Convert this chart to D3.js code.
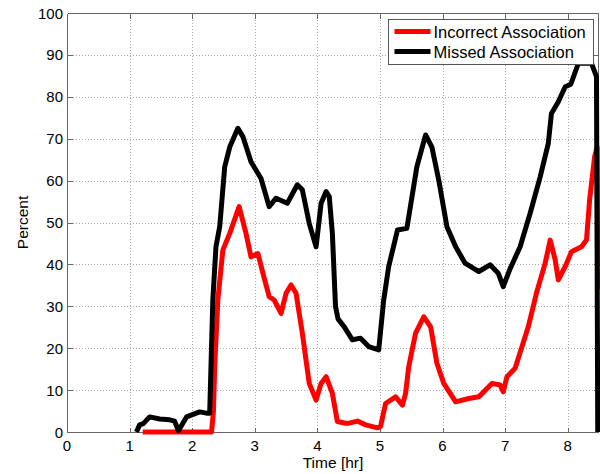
<!DOCTYPE html>
<head>
<meta charset="utf-8">
<script src="https://d3js.org/d3.v7.min.js"></script>
<style>
body {
	margin: 0;
	background: #fff;
}
svg text {
	font-family: "Liberation Sans", Arial, sans-serif;
	fill: #000;
}
.grid line {
	stroke: #aaa;
	stroke-width: 1;
	stroke-dasharray: 1,2;
	shape-rendering: crispEdges;
}
.frame line, .tickmark {
	stroke: #666;
	stroke-width: 1;
	shape-rendering: crispEdges;
}
.line {
	fill: none;
	stroke-width: 5px;
	stroke-linejoin: round;
}
</style>
</head>
<body>
<svg id="chart" width="600" height="474"></svg>
<script>

// values (time in hours, percent)
var missedTime = [1.11, 1.16, 1.22, 1.32, 1.48, 1.64, 1.72, 1.78, 1.91, 2.12, 2.23, 2.28, 2.33, 2.38, 2.44, 2.52, 2.60, 2.73, 2.81, 2.94, 3.10, 3.23, 3.34, 3.52, 3.68, 3.76, 3.87, 3.98, 4.06, 4.14, 4.19, 4.24, 4.29, 4.33, 4.43, 4.56, 4.69, 4.82, 4.98, 5.06, 5.14, 5.28, 5.43, 5.59, 5.73, 5.83, 5.94, 6.07, 6.21, 6.36, 6.58, 6.76, 6.89, 6.97, 7.08, 7.24, 7.40, 7.56, 7.69, 7.74, 7.85, 7.96, 8.05, 8.17, 8.28, 8.38, 8.46, 8.48];
var missedPct = [0, 1.7, 2.0, 3.6, 3.1, 2.9, 2.6, 0.3, 3.6, 4.8, 4.5, 4.5, 31.5, 44.2, 49, 63.3, 68, 72.5, 70.5, 64.5, 60.5, 53.8, 55.8, 54.6, 59, 57.8, 49.8, 44.2, 54.6, 57.4, 56.2, 47.4, 30, 27, 25.1, 22, 22.4, 20.4, 19.6, 31.5, 39.5, 48.2, 48.6, 63.3, 70.9, 68, 60.1, 49, 44.2, 40.3, 38.3, 39.9, 37.9, 34.7, 39, 44.2, 52.2, 60.9, 68.9, 76, 78.8, 82.4, 83, 88, 88, 88, 84.8, 0];

var incorrectTime = [1.21, 2.31, 2.34, 2.36, 2.41, 2.49, 2.60, 2.75, 2.86, 2.94, 3.05, 3.13, 3.23, 3.31, 3.42, 3.50, 3.58, 3.66, 3.76, 3.87, 3.98, 4.06, 4.14, 4.24, 4.32, 4.45, 4.51, 4.64, 4.77, 4.96, 5.01, 5.09, 5.25, 5.36, 5.41, 5.46, 5.57, 5.70, 5.81, 5.91, 6.02, 6.21, 6.42, 6.58, 6.79, 6.92, 6.97, 7.03, 7.16, 7.27, 7.37, 7.50, 7.64, 7.72, 7.80, 7.85, 7.96, 8.06, 8.22, 8.30, 8.35, 8.43, 8.47, 8.48];
var incorrectPct = [0, 0, 5, 15.6, 31.5, 43.4, 47.4, 53.8, 47.4, 41.8, 42.6, 37.9, 32.3, 31.5, 28.3, 33.1, 35.1, 33.1, 23.6, 11.6, 7.6, 11.6, 13.2, 9.2, 2.5, 2.1, 2.1, 2.6, 1.7, 1.0, 1.3, 6.8, 8.4, 6.4, 9.2, 15.6, 23.6, 27.5, 25.1, 16.4, 11.6, 7.2, 8.0, 8.4, 11.6, 11.2, 9.6, 13.2, 15.2, 20.4, 25.1, 33.1, 40.3, 45.8, 41.1, 36.3, 39.5, 43.0, 44.2, 45.8, 55.4, 65.7, 68, 34];

var xTicks = [0, 1, 2, 3, 4, 5, 6, 7, 8];
var yTicks = [0, 10, 20, 30, 40, 50, 60, 70, 80, 90, 100];
var seriesNames = ["Incorrect Association", "Missed Association"];
var seriesColors = ["#ff0000", "#000000"];

var svg = d3.select("#chart"),
	margin = {top: 13, right: 1, bottom: 42, left: 67},
	width = +svg.attr("width"),
	height = +svg.attr("height");

var x = d3.scaleLinear()
	.domain([0, 8.5])
	.range([margin.left, width - margin.right]);

var y = d3.scaleLinear()
	.domain([0, 100])
	.range([height - margin.bottom, margin.top]);

svg.append("rect")
	.attr("width", width)
	.attr("height", height)
	.attr("fill", "#fff");

// dotted grid
var grid = svg.append("g").attr("class", "grid");
grid.selectAll(".gx")
	.data(xTicks.filter(d => d > 0))
	.enter().append("line")
	.attr("x1", d => Math.round(x(d)) + 0.5)
	.attr("x2", d => Math.round(x(d)) + 0.5)
	.attr("y1", y(0))
	.attr("y2", y(100));
grid.selectAll(".gy")
	.data(yTicks.filter(d => d > 0 && d < 100))
	.enter().append("line")
	.attr("y1", d => Math.round(y(d)) + 0.5)
	.attr("y2", d => Math.round(y(d)) + 0.5)
	.attr("x1", x(0))
	.attr("x2", x(8.5));

// frame with inward ticks
var frame = svg.append("g").attr("class", "frame");
var x0 = Math.round(x(0)) + 0.5, x1 = Math.round(x(8.5)) - 0.5,
	y0 = Math.round(y(0)) + 0.5, y1 = Math.round(y(100)) + 0.5;
[[x0, y0, x1, y0], [x0, y1, x1, y1], [x0, y0, x0, y1], [x1, y0, x1, y1]].forEach(function(l) {
	frame.append("line")
		.attr("x1", l[0]).attr("y1", l[1])
		.attr("x2", l[2]).attr("y2", l[3]);
});

xTicks.forEach(function(t) {
	var px = Math.round(x(t)) + 0.5;
	frame.append("line").attr("class", "tickmark")
		.attr("x1", px).attr("x2", px).attr("y1", y0).attr("y2", y0 - 5);
	frame.append("line").attr("class", "tickmark")
		.attr("x1", px).attr("x2", px).attr("y1", y1).attr("y2", y1 + 5);
});
yTicks.forEach(function(t) {
	var py = Math.round(y(t)) + 0.5;
	frame.append("line").attr("class", "tickmark")
		.attr("x1", x0).attr("x2", x0 + 5).attr("y1", py).attr("y2", py);
	frame.append("line").attr("class", "tickmark")
		.attr("x1", x1).attr("x2", x1 - 5).attr("y1", py).attr("y2", py);
});

// tick labels
svg.append("g").selectAll("text")
	.data(xTicks)
	.enter().append("text")
	.attr("x", d => x(d))
	.attr("y", y(0) + 19)
	.attr("text-anchor", "middle")
	.attr("font-size", 15)
	.text(d => d);

svg.append("g").selectAll("text")
	.data(yTicks)
	.enter().append("text")
	.attr("x", x(0) - 4)
	.attr("y", d => y(d) + 5.5)
	.attr("text-anchor", "end")
	.attr("font-size", 15)
	.text(d => d);

// axis titles
svg.append("text")
	.attr("x", (x(0) + x(8.5)) / 2)
	.attr("y", 468)
	.attr("text-anchor", "middle")
	.attr("font-size", 15.5)
	.text("Time [hr]");

svg.append("text")
	.attr("transform", "translate(28," + (y(0) + y(100)) / 2 + ") rotate(-90)")
	.attr("text-anchor", "middle")
	.attr("font-size", 15.5)
	.text("Percent");

// data lines
var line = d3.line()
	.x(d => x(d[0]))
	.y(d => y(d[1]));

var series = [
	d3.zip(incorrectTime, incorrectPct),
	d3.zip(missedTime, missedPct)
];

svg.selectAll(".series")
	.data(series)
	.enter().append("path")
	.attr("class", "line series")
	.style("stroke", (d, i) => seriesColors[i])
	.attr("d", line);

// legend
var legend = svg.append("g").attr("transform", "translate(388.5,19.5)");
legend.append("rect")
	.attr("width", 205)
	.attr("height", 45)
	.attr("fill", "#fff")
	.attr("stroke", "#555")
	.attr("stroke-width", 1);

seriesNames.forEach(function(name, i) {
	legend.append("line")
		.attr("x1", 6).attr("x2", 42)
		.attr("y1", 12 + i * 20).attr("y2", 12 + i * 20)
		.attr("stroke", seriesColors[i])
		.attr("stroke-width", 5);
	legend.append("text")
		.attr("x", 45)
		.attr("y", 18.5 + i * 20)
		.attr("font-size", 16.5)
		.text(name);
});

</script>
</body>
